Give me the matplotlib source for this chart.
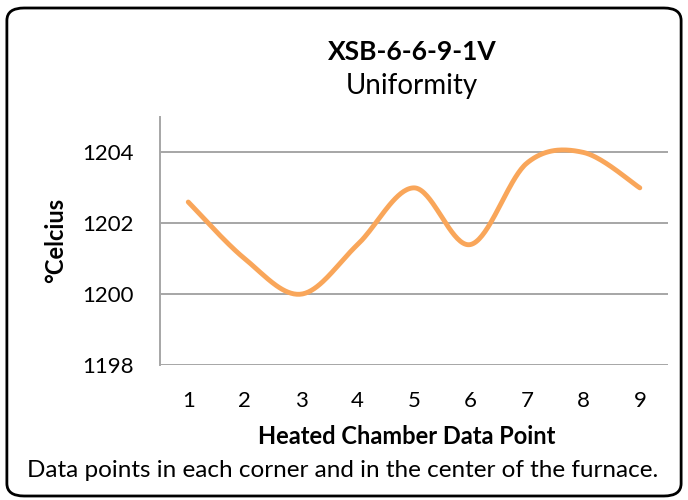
"""Recreate the XSB-6-6-9-1V furnace uniformity chart."""

import numpy as np
import matplotlib
matplotlib.use("Agg")
import matplotlib.pyplot as plt
from matplotlib.patches import FancyBboxPatch


DATA_POINTS = [1, 2, 3, 4, 5, 6, 7, 8, 9]
TEMPS = [1202.6, 1201.0, 1200.0, 1201.4, 1203.0, 1201.4, 1203.7, 1204.0, 1203.0]
Y_TICKS = [1198, 1200, 1202, 1204]


def smooth(x, y, n=40):
    # Catmull-Rom style curve, like a spreadsheet "smoothed line"
    x = np.asarray(x, float)
    y = np.asarray(y, float)
    px = np.concatenate([[x[0]], x, [x[-1]]])
    py = np.concatenate([[y[0]], y, [y[-1]]])
    xs, ys = [], []
    t = np.linspace(0, 1, n)
    for i in range(1, len(px) - 2):
        p0, p1, p2, p3 = (np.array([px[j], py[j]]) for j in range(i - 1, i + 3))
        c1 = p1 + (p2 - p0) / 6
        c2 = p2 - (p3 - p1) / 6
        b = (((1 - t) ** 3)[:, None] * p1 + (3 * (1 - t) ** 2 * t)[:, None] * c1
             + (3 * (1 - t) * t ** 2)[:, None] * c2 + (t ** 3)[:, None] * p2)
        xs.extend(b[:, 0])
        ys.extend(b[:, 1])
    return np.array(xs), np.array(ys)


def main():
    plt.rcParams["font.family"] = ["Lato", "DejaVu Sans"]
    fig = plt.figure(figsize=(6.88, 5.0), dpi=100)
    ax = fig.add_axes([0.2326, 0.27, 0.7384, 0.496])

    grid_color = "#a6a6a6"
    for v in Y_TICKS:
        ax.axhline(v, color=grid_color, lw=1.4, zorder=1)

    sx, sy = smooth(DATA_POINTS, TEMPS)
    ax.plot(sx, sy, color="#f9a65a", lw=3.5, solid_capstyle="round", zorder=3)

    ax.set_xlim(0.5, 9.5)
    ax.set_ylim(1198, 1205)
    ax.set_xticks(DATA_POINTS)
    ax.set_yticks(Y_TICKS)
    ax.tick_params(length=0, labelsize=16)
    ax.tick_params(axis="x", pad=19)
    ax.tick_params(axis="y", pad=19)
    for side in ["top", "right", "bottom"]:
        ax.spines[side].set_visible(False)
    ax.spines["left"].set_color(grid_color)
    ax.spines["left"].set_linewidth(1.4)

    fig.text(0.591, 0.112, "Heated Chamber Data Point", ha="center", va="baseline",
             fontsize=17, fontweight="bold")
    fig.text(0.081, 0.519, "°Celcius", ha="center", va="center", rotation=90,
             fontsize=17, fontweight="bold")

    fig.text(0.599, 0.879, "XSB-6-6-9-1V", ha="center", va="baseline",
             fontsize=19, fontweight="bold")
    fig.text(0.599, 0.812, "Uniformity", ha="center", va="baseline", fontsize=20)
    fig.text(0.4985, 0.046, "Data points in each corner and in the center of the furnace.",
             ha="center", va="baseline", fontsize=17.5)

    box = FancyBboxPatch((0.01, 0.008), 0.98, 0.976,
                         boxstyle="round,pad=0,rounding_size=0.025",
                         transform=fig.transFigure, fill=False,
                         edgecolor="black", lw=2)
    fig.patches.append(box)

    fig.savefig("out.png", dpi=100)


if __name__ == "__main__":
    main()
